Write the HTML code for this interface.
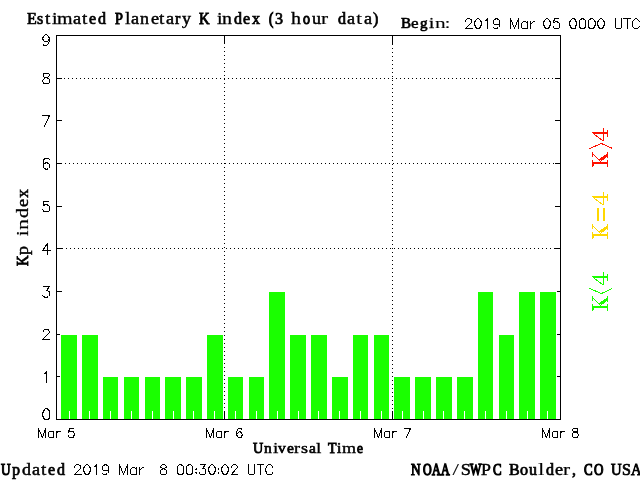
<!DOCTYPE html>
<html><head><meta charset="utf-8"><style>
html,body{margin:0;padding:0;background:#fff;width:640px;height:480px;overflow:hidden}
svg{display:block;will-change:transform}
.sb{font-family:"Liberation Serif",serif;font-weight:normal}
.st{stroke:#000;stroke-width:0.7px}
</style></head><body>
<svg width="640" height="480" viewBox="0 0 640 480">
<rect width="640" height="480" fill="#fff"/>
<g shape-rendering="crispEdges">
<path fill="#000" d="M58 248h1v1h-1zM62 248h1v1h-1zM66 248h1v1h-1zM70 248h1v1h-1zM74 248h1v1h-1zM78 248h1v1h-1zM82 248h1v1h-1zM86 248h1v1h-1zM90 248h1v1h-1zM94 248h1v1h-1zM98 248h1v1h-1zM102 248h1v1h-1zM106 248h1v1h-1zM110 248h1v1h-1zM114 248h1v1h-1zM118 248h1v1h-1zM122 248h1v1h-1zM126 248h1v1h-1zM130 248h1v1h-1zM134 248h1v1h-1zM138 248h1v1h-1zM142 248h1v1h-1zM146 248h1v1h-1zM150 248h1v1h-1zM154 248h1v1h-1zM158 248h1v1h-1zM162 248h1v1h-1zM166 248h1v1h-1zM170 248h1v1h-1zM174 248h1v1h-1zM178 248h1v1h-1zM182 248h1v1h-1zM186 248h1v1h-1zM190 248h1v1h-1zM194 248h1v1h-1zM198 248h1v1h-1zM202 248h1v1h-1zM206 248h1v1h-1zM210 248h1v1h-1zM214 248h1v1h-1zM218 248h1v1h-1zM222 248h1v1h-1zM226 248h1v1h-1zM230 248h1v1h-1zM234 248h1v1h-1zM238 248h1v1h-1zM242 248h1v1h-1zM246 248h1v1h-1zM250 248h1v1h-1zM254 248h1v1h-1zM258 248h1v1h-1zM262 248h1v1h-1zM266 248h1v1h-1zM270 248h1v1h-1zM274 248h1v1h-1zM278 248h1v1h-1zM282 248h1v1h-1zM286 248h1v1h-1zM290 248h1v1h-1zM294 248h1v1h-1zM298 248h1v1h-1zM302 248h1v1h-1zM306 248h1v1h-1zM310 248h1v1h-1zM314 248h1v1h-1zM318 248h1v1h-1zM322 248h1v1h-1zM326 248h1v1h-1zM330 248h1v1h-1zM334 248h1v1h-1zM338 248h1v1h-1zM342 248h1v1h-1zM346 248h1v1h-1zM350 248h1v1h-1zM354 248h1v1h-1zM358 248h1v1h-1zM362 248h1v1h-1zM366 248h1v1h-1zM370 248h1v1h-1zM374 248h1v1h-1zM378 248h1v1h-1zM382 248h1v1h-1zM386 248h1v1h-1zM390 248h1v1h-1zM394 248h1v1h-1zM398 248h1v1h-1zM402 248h1v1h-1zM406 248h1v1h-1zM410 248h1v1h-1zM414 248h1v1h-1zM418 248h1v1h-1zM422 248h1v1h-1zM426 248h1v1h-1zM430 248h1v1h-1zM434 248h1v1h-1zM438 248h1v1h-1zM442 248h1v1h-1zM446 248h1v1h-1zM450 248h1v1h-1zM454 248h1v1h-1zM458 248h1v1h-1zM462 248h1v1h-1zM466 248h1v1h-1zM470 248h1v1h-1zM474 248h1v1h-1zM478 248h1v1h-1zM482 248h1v1h-1zM486 248h1v1h-1zM490 248h1v1h-1zM494 248h1v1h-1zM498 248h1v1h-1zM502 248h1v1h-1zM506 248h1v1h-1zM510 248h1v1h-1zM514 248h1v1h-1zM518 248h1v1h-1zM522 248h1v1h-1zM526 248h1v1h-1zM530 248h1v1h-1zM534 248h1v1h-1zM538 248h1v1h-1zM542 248h1v1h-1zM546 248h1v1h-1zM550 248h1v1h-1zM554 248h1v1h-1zM558 248h1v1h-1zM57 163h1v1h-1zM61 163h1v1h-1zM65 163h1v1h-1zM69 163h1v1h-1zM73 163h1v1h-1zM77 163h1v1h-1zM81 163h1v1h-1zM85 163h1v1h-1zM89 163h1v1h-1zM93 163h1v1h-1zM97 163h1v1h-1zM101 163h1v1h-1zM105 163h1v1h-1zM109 163h1v1h-1zM113 163h1v1h-1zM117 163h1v1h-1zM121 163h1v1h-1zM125 163h1v1h-1zM129 163h1v1h-1zM133 163h1v1h-1zM137 163h1v1h-1zM141 163h1v1h-1zM145 163h1v1h-1zM149 163h1v1h-1zM153 163h1v1h-1zM157 163h1v1h-1zM161 163h1v1h-1zM165 163h1v1h-1zM169 163h1v1h-1zM173 163h1v1h-1zM177 163h1v1h-1zM181 163h1v1h-1zM185 163h1v1h-1zM189 163h1v1h-1zM193 163h1v1h-1zM197 163h1v1h-1zM201 163h1v1h-1zM205 163h1v1h-1zM209 163h1v1h-1zM213 163h1v1h-1zM217 163h1v1h-1zM221 163h1v1h-1zM225 163h1v1h-1zM229 163h1v1h-1zM233 163h1v1h-1zM237 163h1v1h-1zM241 163h1v1h-1zM245 163h1v1h-1zM249 163h1v1h-1zM253 163h1v1h-1zM257 163h1v1h-1zM261 163h1v1h-1zM265 163h1v1h-1zM269 163h1v1h-1zM273 163h1v1h-1zM277 163h1v1h-1zM281 163h1v1h-1zM285 163h1v1h-1zM289 163h1v1h-1zM293 163h1v1h-1zM297 163h1v1h-1zM301 163h1v1h-1zM305 163h1v1h-1zM309 163h1v1h-1zM313 163h1v1h-1zM317 163h1v1h-1zM321 163h1v1h-1zM325 163h1v1h-1zM329 163h1v1h-1zM333 163h1v1h-1zM337 163h1v1h-1zM341 163h1v1h-1zM345 163h1v1h-1zM349 163h1v1h-1zM353 163h1v1h-1zM357 163h1v1h-1zM361 163h1v1h-1zM365 163h1v1h-1zM369 163h1v1h-1zM373 163h1v1h-1zM377 163h1v1h-1zM381 163h1v1h-1zM385 163h1v1h-1zM389 163h1v1h-1zM393 163h1v1h-1zM397 163h1v1h-1zM401 163h1v1h-1zM405 163h1v1h-1zM409 163h1v1h-1zM413 163h1v1h-1zM417 163h1v1h-1zM421 163h1v1h-1zM425 163h1v1h-1zM429 163h1v1h-1zM433 163h1v1h-1zM437 163h1v1h-1zM441 163h1v1h-1zM445 163h1v1h-1zM449 163h1v1h-1zM453 163h1v1h-1zM457 163h1v1h-1zM461 163h1v1h-1zM465 163h1v1h-1zM469 163h1v1h-1zM473 163h1v1h-1zM477 163h1v1h-1zM481 163h1v1h-1zM485 163h1v1h-1zM489 163h1v1h-1zM493 163h1v1h-1zM497 163h1v1h-1zM501 163h1v1h-1zM505 163h1v1h-1zM509 163h1v1h-1zM513 163h1v1h-1zM517 163h1v1h-1zM521 163h1v1h-1zM525 163h1v1h-1zM529 163h1v1h-1zM533 163h1v1h-1zM537 163h1v1h-1zM541 163h1v1h-1zM545 163h1v1h-1zM549 163h1v1h-1zM553 163h1v1h-1zM557 163h1v1h-1zM60 78h1v1h-1zM64 78h1v1h-1zM68 78h1v1h-1zM72 78h1v1h-1zM76 78h1v1h-1zM80 78h1v1h-1zM84 78h1v1h-1zM88 78h1v1h-1zM92 78h1v1h-1zM96 78h1v1h-1zM100 78h1v1h-1zM104 78h1v1h-1zM108 78h1v1h-1zM112 78h1v1h-1zM116 78h1v1h-1zM120 78h1v1h-1zM124 78h1v1h-1zM128 78h1v1h-1zM132 78h1v1h-1zM136 78h1v1h-1zM140 78h1v1h-1zM144 78h1v1h-1zM148 78h1v1h-1zM152 78h1v1h-1zM156 78h1v1h-1zM160 78h1v1h-1zM164 78h1v1h-1zM168 78h1v1h-1zM172 78h1v1h-1zM176 78h1v1h-1zM180 78h1v1h-1zM184 78h1v1h-1zM188 78h1v1h-1zM192 78h1v1h-1zM196 78h1v1h-1zM200 78h1v1h-1zM204 78h1v1h-1zM208 78h1v1h-1zM212 78h1v1h-1zM216 78h1v1h-1zM220 78h1v1h-1zM224 78h1v1h-1zM228 78h1v1h-1zM232 78h1v1h-1zM236 78h1v1h-1zM240 78h1v1h-1zM244 78h1v1h-1zM248 78h1v1h-1zM252 78h1v1h-1zM256 78h1v1h-1zM260 78h1v1h-1zM264 78h1v1h-1zM268 78h1v1h-1zM272 78h1v1h-1zM276 78h1v1h-1zM280 78h1v1h-1zM284 78h1v1h-1zM288 78h1v1h-1zM292 78h1v1h-1zM296 78h1v1h-1zM300 78h1v1h-1zM304 78h1v1h-1zM308 78h1v1h-1zM312 78h1v1h-1zM316 78h1v1h-1zM320 78h1v1h-1zM324 78h1v1h-1zM328 78h1v1h-1zM332 78h1v1h-1zM336 78h1v1h-1zM340 78h1v1h-1zM344 78h1v1h-1zM348 78h1v1h-1zM352 78h1v1h-1zM356 78h1v1h-1zM360 78h1v1h-1zM364 78h1v1h-1zM368 78h1v1h-1zM372 78h1v1h-1zM376 78h1v1h-1zM380 78h1v1h-1zM384 78h1v1h-1zM388 78h1v1h-1zM392 78h1v1h-1zM396 78h1v1h-1zM400 78h1v1h-1zM404 78h1v1h-1zM408 78h1v1h-1zM412 78h1v1h-1zM416 78h1v1h-1zM420 78h1v1h-1zM424 78h1v1h-1zM428 78h1v1h-1zM432 78h1v1h-1zM436 78h1v1h-1zM440 78h1v1h-1zM444 78h1v1h-1zM448 78h1v1h-1zM452 78h1v1h-1zM456 78h1v1h-1zM460 78h1v1h-1zM464 78h1v1h-1zM468 78h1v1h-1zM472 78h1v1h-1zM476 78h1v1h-1zM480 78h1v1h-1zM484 78h1v1h-1zM488 78h1v1h-1zM492 78h1v1h-1zM496 78h1v1h-1zM500 78h1v1h-1zM504 78h1v1h-1zM508 78h1v1h-1zM512 78h1v1h-1zM516 78h1v1h-1zM520 78h1v1h-1zM524 78h1v1h-1zM528 78h1v1h-1zM532 78h1v1h-1zM536 78h1v1h-1zM540 78h1v1h-1zM544 78h1v1h-1zM548 78h1v1h-1zM552 78h1v1h-1zM556 78h1v1h-1zM224 47h1v1h-1zM224 51h1v1h-1zM224 55h1v1h-1zM224 59h1v1h-1zM224 63h1v1h-1zM224 67h1v1h-1zM224 71h1v1h-1zM224 75h1v1h-1zM224 79h1v1h-1zM224 83h1v1h-1zM224 87h1v1h-1zM224 91h1v1h-1zM224 95h1v1h-1zM224 99h1v1h-1zM224 103h1v1h-1zM224 107h1v1h-1zM224 111h1v1h-1zM224 115h1v1h-1zM224 119h1v1h-1zM224 123h1v1h-1zM224 127h1v1h-1zM224 131h1v1h-1zM224 135h1v1h-1zM224 139h1v1h-1zM224 143h1v1h-1zM224 147h1v1h-1zM224 151h1v1h-1zM224 155h1v1h-1zM224 159h1v1h-1zM224 163h1v1h-1zM224 167h1v1h-1zM224 171h1v1h-1zM224 175h1v1h-1zM224 179h1v1h-1zM224 183h1v1h-1zM224 187h1v1h-1zM224 191h1v1h-1zM224 195h1v1h-1zM224 199h1v1h-1zM224 203h1v1h-1zM224 207h1v1h-1zM224 211h1v1h-1zM224 215h1v1h-1zM224 219h1v1h-1zM224 223h1v1h-1zM224 227h1v1h-1zM224 231h1v1h-1zM224 235h1v1h-1zM224 239h1v1h-1zM224 243h1v1h-1zM224 247h1v1h-1zM224 251h1v1h-1zM224 255h1v1h-1zM224 259h1v1h-1zM224 263h1v1h-1zM224 267h1v1h-1zM224 271h1v1h-1zM224 275h1v1h-1zM224 279h1v1h-1zM224 283h1v1h-1zM224 287h1v1h-1zM224 291h1v1h-1zM224 295h1v1h-1zM224 299h1v1h-1zM224 303h1v1h-1zM224 307h1v1h-1zM224 311h1v1h-1zM224 315h1v1h-1zM224 319h1v1h-1zM224 323h1v1h-1zM224 327h1v1h-1zM224 331h1v1h-1zM224 335h1v1h-1zM224 339h1v1h-1zM224 343h1v1h-1zM224 347h1v1h-1zM224 351h1v1h-1zM224 355h1v1h-1zM224 359h1v1h-1zM224 363h1v1h-1zM224 367h1v1h-1zM224 371h1v1h-1zM224 375h1v1h-1zM224 379h1v1h-1zM224 383h1v1h-1zM224 387h1v1h-1zM224 391h1v1h-1zM224 395h1v1h-1zM224 399h1v1h-1zM224 403h1v1h-1zM224 407h1v1h-1zM392 44h1v1h-1zM392 48h1v1h-1zM392 52h1v1h-1zM392 56h1v1h-1zM392 60h1v1h-1zM392 64h1v1h-1zM392 68h1v1h-1zM392 72h1v1h-1zM392 76h1v1h-1zM392 80h1v1h-1zM392 84h1v1h-1zM392 88h1v1h-1zM392 92h1v1h-1zM392 96h1v1h-1zM392 100h1v1h-1zM392 104h1v1h-1zM392 108h1v1h-1zM392 112h1v1h-1zM392 116h1v1h-1zM392 120h1v1h-1zM392 124h1v1h-1zM392 128h1v1h-1zM392 132h1v1h-1zM392 136h1v1h-1zM392 140h1v1h-1zM392 144h1v1h-1zM392 148h1v1h-1zM392 152h1v1h-1zM392 156h1v1h-1zM392 160h1v1h-1zM392 164h1v1h-1zM392 168h1v1h-1zM392 172h1v1h-1zM392 176h1v1h-1zM392 180h1v1h-1zM392 184h1v1h-1zM392 188h1v1h-1zM392 192h1v1h-1zM392 196h1v1h-1zM392 200h1v1h-1zM392 204h1v1h-1zM392 208h1v1h-1zM392 212h1v1h-1zM392 216h1v1h-1zM392 220h1v1h-1zM392 224h1v1h-1zM392 228h1v1h-1zM392 232h1v1h-1zM392 236h1v1h-1zM392 240h1v1h-1zM392 244h1v1h-1zM392 248h1v1h-1zM392 252h1v1h-1zM392 256h1v1h-1zM392 260h1v1h-1zM392 264h1v1h-1zM392 268h1v1h-1zM392 272h1v1h-1zM392 276h1v1h-1zM392 280h1v1h-1zM392 284h1v1h-1zM392 288h1v1h-1zM392 292h1v1h-1zM392 296h1v1h-1zM392 300h1v1h-1zM392 304h1v1h-1zM392 308h1v1h-1zM392 312h1v1h-1zM392 316h1v1h-1zM392 320h1v1h-1zM392 324h1v1h-1zM392 328h1v1h-1zM392 332h1v1h-1zM392 336h1v1h-1zM392 340h1v1h-1zM392 344h1v1h-1zM392 348h1v1h-1zM392 352h1v1h-1zM392 356h1v1h-1zM392 360h1v1h-1zM392 364h1v1h-1zM392 368h1v1h-1zM392 372h1v1h-1zM392 376h1v1h-1zM392 380h1v1h-1zM392 384h1v1h-1zM392 388h1v1h-1zM392 392h1v1h-1zM392 396h1v1h-1zM392 400h1v1h-1zM392 404h1v1h-1zM392 408h1v1h-1z"/>
<rect x="224" y="36" width="1" height="8" fill="#000"/>
<rect x="224" y="411" width="1" height="8" fill="#000"/>
<rect x="392" y="36" width="1" height="8" fill="#000"/>
<rect x="392" y="411" width="1" height="8" fill="#000"/>
<rect x="57" y="376" width="5" height="1" fill="#000"/>
<rect x="555" y="376" width="5" height="1" fill="#000"/>
<rect x="57" y="334" width="5" height="1" fill="#000"/>
<rect x="555" y="334" width="5" height="1" fill="#000"/>
<rect x="57" y="291" width="5" height="1" fill="#000"/>
<rect x="555" y="291" width="5" height="1" fill="#000"/>
<rect x="57" y="248" width="5" height="1" fill="#000"/>
<rect x="555" y="248" width="5" height="1" fill="#000"/>
<rect x="57" y="206" width="5" height="1" fill="#000"/>
<rect x="555" y="206" width="5" height="1" fill="#000"/>
<rect x="57" y="163" width="5" height="1" fill="#000"/>
<rect x="555" y="163" width="5" height="1" fill="#000"/>
<rect x="57" y="120" width="5" height="1" fill="#000"/>
<rect x="555" y="120" width="5" height="1" fill="#000"/>
<rect x="57" y="78" width="5" height="1" fill="#000"/>
<rect x="555" y="78" width="5" height="1" fill="#000"/>
<rect x="60" y="334" width="18" height="85" fill="#fff"/>
<rect x="61" y="335" width="16" height="84" fill="#1aff00"/>
<rect x="69" y="411" width="1" height="8" fill="#fff"/>
<rect x="81" y="334" width="18" height="85" fill="#fff"/>
<rect x="82" y="335" width="16" height="84" fill="#1aff00"/>
<rect x="89" y="411" width="1" height="8" fill="#fff"/>
<rect x="102" y="376" width="17" height="43" fill="#fff"/>
<rect x="103" y="377" width="15" height="42" fill="#1aff00"/>
<rect x="110" y="411" width="1" height="8" fill="#fff"/>
<rect x="123" y="376" width="17" height="43" fill="#fff"/>
<rect x="124" y="377" width="15" height="42" fill="#1aff00"/>
<rect x="131" y="411" width="1" height="8" fill="#fff"/>
<rect x="144" y="376" width="17" height="43" fill="#fff"/>
<rect x="145" y="377" width="15" height="42" fill="#1aff00"/>
<rect x="152" y="411" width="1" height="8" fill="#fff"/>
<rect x="164" y="376" width="18" height="43" fill="#fff"/>
<rect x="165" y="377" width="16" height="42" fill="#1aff00"/>
<rect x="173" y="411" width="1" height="8" fill="#fff"/>
<rect x="185" y="376" width="18" height="43" fill="#fff"/>
<rect x="186" y="377" width="16" height="42" fill="#1aff00"/>
<rect x="193" y="411" width="1" height="8" fill="#fff"/>
<rect x="206" y="334" width="18" height="85" fill="#fff"/>
<rect x="207" y="335" width="16" height="84" fill="#1aff00"/>
<rect x="214" y="411" width="1" height="8" fill="#fff"/>
<rect x="227" y="376" width="17" height="43" fill="#fff"/>
<rect x="228" y="377" width="15" height="42" fill="#1aff00"/>
<rect x="235" y="411" width="1" height="8" fill="#fff"/>
<rect x="248" y="376" width="17" height="43" fill="#fff"/>
<rect x="249" y="377" width="15" height="42" fill="#1aff00"/>
<rect x="256" y="411" width="1" height="8" fill="#fff"/>
<rect x="268" y="291" width="18" height="128" fill="#fff"/>
<rect x="269" y="292" width="16" height="127" fill="#1aff00"/>
<rect x="277" y="411" width="1" height="8" fill="#fff"/>
<rect x="289" y="334" width="18" height="85" fill="#fff"/>
<rect x="290" y="335" width="16" height="84" fill="#1aff00"/>
<rect x="298" y="411" width="1" height="8" fill="#fff"/>
<rect x="310" y="334" width="18" height="85" fill="#fff"/>
<rect x="311" y="335" width="16" height="84" fill="#1aff00"/>
<rect x="318" y="411" width="1" height="8" fill="#fff"/>
<rect x="331" y="376" width="18" height="43" fill="#fff"/>
<rect x="332" y="377" width="16" height="42" fill="#1aff00"/>
<rect x="339" y="411" width="1" height="8" fill="#fff"/>
<rect x="352" y="334" width="17" height="85" fill="#fff"/>
<rect x="353" y="335" width="15" height="84" fill="#1aff00"/>
<rect x="360" y="411" width="1" height="8" fill="#fff"/>
<rect x="373" y="334" width="17" height="85" fill="#fff"/>
<rect x="374" y="335" width="15" height="84" fill="#1aff00"/>
<rect x="381" y="411" width="1" height="8" fill="#fff"/>
<rect x="393" y="376" width="18" height="43" fill="#fff"/>
<rect x="394" y="377" width="16" height="42" fill="#1aff00"/>
<rect x="402" y="411" width="1" height="8" fill="#fff"/>
<rect x="414" y="376" width="18" height="43" fill="#fff"/>
<rect x="415" y="377" width="16" height="42" fill="#1aff00"/>
<rect x="423" y="411" width="1" height="8" fill="#fff"/>
<rect x="435" y="376" width="18" height="43" fill="#fff"/>
<rect x="436" y="377" width="16" height="42" fill="#1aff00"/>
<rect x="443" y="411" width="1" height="8" fill="#fff"/>
<rect x="456" y="376" width="18" height="43" fill="#fff"/>
<rect x="457" y="377" width="16" height="42" fill="#1aff00"/>
<rect x="464" y="411" width="1" height="8" fill="#fff"/>
<rect x="477" y="291" width="17" height="128" fill="#fff"/>
<rect x="478" y="292" width="15" height="127" fill="#1aff00"/>
<rect x="485" y="411" width="1" height="8" fill="#fff"/>
<rect x="498" y="334" width="17" height="85" fill="#fff"/>
<rect x="499" y="335" width="15" height="84" fill="#1aff00"/>
<rect x="506" y="411" width="1" height="8" fill="#fff"/>
<rect x="518" y="291" width="18" height="128" fill="#fff"/>
<rect x="519" y="292" width="16" height="127" fill="#1aff00"/>
<rect x="527" y="411" width="1" height="8" fill="#fff"/>
<rect x="539" y="291" width="18" height="128" fill="#fff"/>
<rect x="540" y="292" width="16" height="127" fill="#1aff00"/>
<rect x="547" y="411" width="1" height="8" fill="#fff"/>
<rect x="56" y="35" width="505" height="1" fill="#000"/>
<rect x="56" y="419" width="505" height="1" fill="#000"/>
<rect x="56" y="35" width="1" height="385" fill="#000"/>
<rect x="560" y="35" width="1" height="385" fill="#000"/>
</g>
<path fill="none" stroke="#000" stroke-width="1" stroke-linecap="square" shape-rendering="crispEdges" d="M465.5 21.5L465.5 20.5L466.5 19.5L466.5 19.5L467.5 18.5L469.5 18.5L470.5 19.5L471.5 19.5L471.5 20.5L471.5 21.5L471.5 22.5L470.5 23.5L465.5 28.5L472.5 28.5M477.5 18.5L476.5 19.5L475.5 20.5L474.5 22.5L474.5 24.5L475.5 26.5L476.5 28.5L477.5 28.5L478.5 28.5L479.5 28.5L480.5 26.5L481.5 24.5L481.5 22.5L480.5 20.5L479.5 19.5L478.5 18.5L477.5 18.5M485.5 20.5L486.5 20.5L487.5 18.5L487.5 28.5M499.5 21.5L499.5 23.5L498.5 24.5L496.5 24.5L496.5 24.5L494.5 24.5L493.5 23.5L493.5 21.5L493.5 21.5L493.5 20.5L494.5 19.5L496.5 18.5L496.5 18.5L498.5 19.5L499.5 20.5L499.5 21.5L499.5 23.5L499.5 26.5L498.5 27.5L496.5 28.5L495.5 28.5L494.5 28.5L493.5 27.5M510.5 18.5L510.5 28.5M510.5 18.5L514.5 28.5M518.5 18.5L514.5 28.5M518.5 18.5L518.5 28.5M527.5 21.5L527.5 28.5M527.5 23.5L526.5 22.5L525.5 21.5L523.5 21.5L522.5 22.5L521.5 23.5L521.5 24.5L521.5 25.5L521.5 27.5L522.5 28.5L523.5 28.5L525.5 28.5L526.5 28.5L527.5 27.5M530.5 21.5L530.5 28.5M530.5 24.5L531.5 23.5L532.5 22.5L533.5 21.5L534.5 21.5M546.5 18.5L545.5 19.5L544.5 20.5L543.5 22.5L543.5 24.5L544.5 26.5L545.5 28.5L546.5 28.5L547.5 28.5L548.5 28.5L549.5 26.5L550.5 24.5L550.5 22.5L549.5 20.5L548.5 19.5L547.5 18.5L546.5 18.5M558.5 18.5L554.5 18.5L553.5 22.5L554.5 22.5L555.5 21.5L556.5 21.5L558.5 22.5L559.5 23.5L559.5 24.5L559.5 25.5L559.5 27.5L558.5 28.5L556.5 28.5L555.5 28.5L554.5 28.5L553.5 27.5L553.5 26.5M572.5 18.5L571.5 19.5L570.5 20.5L569.5 22.5L569.5 24.5L570.5 26.5L571.5 28.5L572.5 28.5L573.5 28.5L575.5 28.5L575.5 26.5L576.5 24.5L576.5 22.5L575.5 20.5L575.5 19.5L573.5 18.5L572.5 18.5M582.5 18.5L580.5 19.5L579.5 20.5L579.5 22.5L579.5 24.5L579.5 26.5L580.5 28.5L582.5 28.5L582.5 28.5L584.5 28.5L585.5 26.5L585.5 24.5L585.5 22.5L585.5 20.5L584.5 19.5L582.5 18.5L582.5 18.5M591.5 18.5L589.5 19.5L588.5 20.5L588.5 22.5L588.5 24.5L588.5 26.5L589.5 28.5L591.5 28.5L592.5 28.5L593.5 28.5L594.5 26.5L595.5 24.5L595.5 22.5L594.5 20.5L593.5 19.5L592.5 18.5L591.5 18.5M600.5 18.5L599.5 19.5L598.5 20.5L597.5 22.5L597.5 24.5L598.5 26.5L599.5 28.5L600.5 28.5L601.5 28.5L602.5 28.5L603.5 26.5L604.5 24.5L604.5 22.5L603.5 20.5L602.5 19.5L601.5 18.5L600.5 18.5M615.5 18.5L615.5 25.5L615.5 27.5L616.5 28.5L617.5 28.5L618.5 28.5L620.5 28.5L621.5 27.5L621.5 25.5L621.5 18.5M627.5 18.5L627.5 28.5M623.5 18.5L630.5 18.5M639.5 21.5L638.5 20.5L637.5 19.5L636.5 18.5L635.5 18.5L634.5 19.5L633.5 20.5L632.5 21.5L632.5 22.5L632.5 24.5L632.5 26.5L633.5 27.5L634.5 28.5L635.5 28.5L636.5 28.5L637.5 28.5L638.5 27.5L639.5 26.5M74.5 467.5L74.5 466.5L75.5 465.5L75.5 465.5L76.5 464.5L78.5 464.5L79.5 465.5L80.5 465.5L80.5 466.5L80.5 467.5L80.5 468.5L79.5 469.5L74.5 474.5L81.5 474.5M86.5 464.5L85.5 465.5L84.5 466.5L83.5 468.5L83.5 470.5L84.5 472.5L85.5 474.5L86.5 474.5L87.5 474.5L88.5 474.5L89.5 472.5L90.5 470.5L90.5 468.5L89.5 466.5L88.5 465.5L87.5 464.5L86.5 464.5M94.5 466.5L95.5 466.5L96.5 464.5L96.5 474.5M108.5 467.5L108.5 469.5L107.5 470.5L105.5 470.5L105.5 470.5L103.5 470.5L102.5 469.5L102.5 467.5L102.5 467.5L102.5 466.5L103.5 465.5L105.5 464.5L105.5 464.5L107.5 465.5L108.5 466.5L108.5 467.5L108.5 469.5L108.5 472.5L107.5 473.5L105.5 474.5L104.5 474.5L103.5 474.5L102.5 473.5M119.5 464.5L119.5 474.5M119.5 464.5L123.5 474.5M127.5 464.5L123.5 474.5M127.5 464.5L127.5 474.5M136.5 467.5L136.5 474.5M136.5 469.5L135.5 468.5L134.5 467.5L132.5 467.5L131.5 468.5L130.5 469.5L130.5 470.5L130.5 471.5L130.5 473.5L131.5 474.5L132.5 474.5L134.5 474.5L135.5 474.5L136.5 473.5M139.5 467.5L139.5 474.5M139.5 470.5L140.5 469.5L141.5 468.5L142.5 467.5L143.5 467.5M162.5 464.5L161.5 465.5L160.5 466.5L160.5 467.5L161.5 467.5L162.5 468.5L163.5 468.5L165.5 469.5L166.5 470.5L166.5 471.5L166.5 472.5L166.5 473.5L165.5 474.5L164.5 474.5L162.5 474.5L161.5 474.5L160.5 473.5L160.5 472.5L160.5 471.5L160.5 470.5L161.5 469.5L163.5 468.5L164.5 468.5L165.5 467.5L166.5 467.5L166.5 466.5L165.5 465.5L164.5 464.5L162.5 464.5M179.5 464.5L178.5 465.5L177.5 466.5L177.5 468.5L177.5 470.5L177.5 472.5L178.5 474.5L179.5 474.5L180.5 474.5L182.5 474.5L183.5 472.5L183.5 470.5L183.5 468.5L183.5 466.5L182.5 465.5L180.5 464.5L179.5 464.5M189.5 464.5L187.5 465.5L186.5 466.5L186.5 468.5L186.5 470.5L186.5 472.5L187.5 474.5L189.5 474.5L190.5 474.5L191.5 474.5L192.5 472.5L192.5 470.5L192.5 468.5L192.5 466.5L191.5 465.5L190.5 464.5L189.5 464.5M196.5 468.5L195.5 469.5L196.5 469.5L196.5 469.5L196.5 468.5M196.5 472.5L195.5 472.5L196.5 473.5L196.5 472.5L196.5 472.5M200.5 464.5L205.5 464.5L202.5 468.5L204.5 468.5L204.5 468.5L205.5 469.5L205.5 470.5L205.5 471.5L205.5 473.5L204.5 474.5L203.5 474.5L201.5 474.5L200.5 474.5L199.5 473.5L199.5 472.5M211.5 464.5L210.5 465.5L209.5 466.5L208.5 468.5L208.5 470.5L209.5 472.5L210.5 474.5L211.5 474.5L212.5 474.5L213.5 474.5L214.5 472.5L215.5 470.5L215.5 468.5L214.5 466.5L213.5 465.5L212.5 464.5L211.5 464.5M218.5 468.5L218.5 469.5L218.5 469.5L218.5 469.5L218.5 468.5M218.5 472.5L218.5 472.5L218.5 473.5L218.5 472.5L218.5 472.5M224.5 464.5L223.5 465.5L222.5 466.5L221.5 468.5L221.5 470.5L222.5 472.5L223.5 474.5L224.5 474.5L225.5 474.5L226.5 474.5L227.5 472.5L228.5 470.5L228.5 468.5L227.5 466.5L226.5 465.5L225.5 464.5L224.5 464.5M231.5 467.5L231.5 466.5L232.5 465.5L232.5 465.5L233.5 464.5L235.5 464.5L236.5 465.5L236.5 465.5L237.5 466.5L237.5 467.5L236.5 468.5L235.5 469.5L231.5 474.5L237.5 474.5M248.5 464.5L248.5 471.5L248.5 473.5L249.5 474.5L251.5 474.5L252.5 474.5L253.5 474.5L254.5 473.5L254.5 471.5L254.5 464.5M260.5 464.5L260.5 474.5M257.5 464.5L263.5 464.5M272.5 467.5L272.5 466.5L271.5 465.5L270.5 464.5L268.5 464.5L267.5 465.5L266.5 466.5L266.5 467.5L265.5 468.5L265.5 470.5L266.5 472.5L266.5 473.5L267.5 474.5L268.5 474.5L270.5 474.5L271.5 474.5L272.5 473.5L272.5 472.5M45.5 408.5L44.5 409.5L43.5 411.5L42.5 413.5L42.5 415.5L43.5 417.5L44.5 419.5L45.5 419.5L46.5 419.5L48.5 419.5L49.5 417.5L49.5 415.5L49.5 413.5L49.5 411.5L48.5 409.5L46.5 408.5L45.5 408.5M44.5 373.5L45.5 373.5L46.5 371.5L46.5 382.5M43.5 331.5L43.5 331.5L43.5 330.5L44.5 329.5L45.5 329.5L47.5 329.5L48.5 329.5L48.5 330.5L49.5 331.5L49.5 332.5L48.5 333.5L47.5 334.5L42.5 339.5L49.5 339.5M43.5 286.5L49.5 286.5L46.5 290.5L47.5 290.5L48.5 291.5L49.5 291.5L49.5 293.5L49.5 294.5L49.5 295.5L48.5 296.5L46.5 297.5L45.5 297.5L43.5 296.5L43.5 296.5L42.5 295.5M47.5 243.5L42.5 250.5L50.5 250.5M47.5 243.5L47.5 254.5M48.5 201.5L43.5 201.5L43.5 205.5L43.5 205.5L45.5 204.5L46.5 204.5L48.5 205.5L49.5 206.5L49.5 207.5L49.5 208.5L49.5 210.5L48.5 211.5L46.5 211.5L45.5 211.5L43.5 211.5L43.5 210.5L42.5 209.5M49.5 159.5L48.5 158.5L47.5 158.5L46.5 158.5L44.5 158.5L43.5 160.5L43.5 163.5L43.5 165.5L43.5 167.5L44.5 168.5L46.5 169.5L46.5 169.5L48.5 168.5L49.5 167.5L49.5 166.5L49.5 165.5L49.5 164.5L48.5 163.5L46.5 162.5L46.5 162.5L44.5 163.5L43.5 164.5L43.5 165.5M49.5 115.5L44.5 126.5M42.5 115.5L49.5 115.5M45.5 73.5L43.5 73.5L43.5 74.5L43.5 75.5L43.5 76.5L44.5 77.5L46.5 77.5L48.5 78.5L49.5 79.5L49.5 80.5L49.5 81.5L49.5 82.5L48.5 83.5L47.5 83.5L45.5 83.5L43.5 83.5L43.5 82.5L42.5 81.5L42.5 80.5L43.5 79.5L44.5 78.5L45.5 77.5L47.5 77.5L48.5 76.5L49.5 75.5L49.5 74.5L48.5 73.5L47.5 73.5L45.5 73.5M49.5 38.5L48.5 40.5L47.5 41.5L46.5 41.5L45.5 41.5L44.5 41.5L43.5 40.5L42.5 38.5L42.5 38.5L43.5 36.5L44.5 35.5L45.5 34.5L46.5 34.5L47.5 35.5L48.5 36.5L49.5 38.5L49.5 40.5L48.5 43.5L47.5 44.5L46.5 45.5L45.5 45.5L43.5 45.5L43.5 44.5M38.5 428.5L38.5 437.5M38.5 428.5L42.5 437.5M45.5 428.5L42.5 437.5M45.5 428.5L45.5 437.5M53.5 431.5L53.5 437.5M53.5 432.5L52.5 431.5L51.5 431.5L50.5 431.5L49.5 431.5L48.5 432.5L48.5 433.5L48.5 434.5L48.5 436.5L49.5 437.5L50.5 437.5L51.5 437.5L52.5 437.5L53.5 436.5M56.5 431.5L56.5 437.5M56.5 433.5L57.5 432.5L57.5 431.5L58.5 431.5L60.5 431.5M73.5 428.5L69.5 428.5L68.5 432.5L69.5 431.5L70.5 431.5L71.5 431.5L73.5 431.5L73.5 432.5L74.5 433.5L74.5 434.5L73.5 436.5L73.5 437.5L71.5 437.5L70.5 437.5L69.5 437.5L68.5 436.5L68.5 435.5M206.5 428.5L206.5 437.5M206.5 428.5L210.5 437.5M213.5 428.5L210.5 437.5M213.5 428.5L213.5 437.5M221.5 431.5L221.5 437.5M221.5 432.5L220.5 431.5L219.5 431.5L218.5 431.5L217.5 431.5L216.5 432.5L216.5 433.5L216.5 434.5L216.5 436.5L217.5 437.5L218.5 437.5L219.5 437.5L220.5 437.5L221.5 436.5M224.5 431.5L224.5 437.5M224.5 433.5L225.5 432.5L225.5 431.5L226.5 431.5L228.5 431.5M241.5 429.5L241.5 428.5L240.5 428.5L239.5 428.5L238.5 428.5L237.5 429.5L236.5 432.5L236.5 434.5L237.5 436.5L238.5 437.5L239.5 437.5L239.5 437.5L241.5 437.5L241.5 436.5L242.5 434.5L242.5 434.5L241.5 433.5L241.5 432.5L239.5 431.5L239.5 431.5L238.5 432.5L237.5 433.5L236.5 434.5M374.5 428.5L374.5 437.5M374.5 428.5L378.5 437.5M381.5 428.5L378.5 437.5M381.5 428.5L381.5 437.5M389.5 431.5L389.5 437.5M389.5 432.5L388.5 431.5L387.5 431.5L386.5 431.5L385.5 431.5L384.5 432.5L384.5 433.5L384.5 434.5L384.5 436.5L385.5 437.5L386.5 437.5L387.5 437.5L388.5 437.5L389.5 436.5M392.5 431.5L392.5 437.5M392.5 433.5L393.5 432.5L393.5 431.5L394.5 431.5L396.5 431.5M410.5 428.5L406.5 437.5M404.5 428.5L410.5 428.5M542.5 428.5L542.5 437.5M542.5 428.5L546.5 437.5M549.5 428.5L546.5 437.5M549.5 428.5L549.5 437.5M557.5 431.5L557.5 437.5M557.5 432.5L556.5 431.5L555.5 431.5L554.5 431.5L553.5 431.5L552.5 432.5L552.5 433.5L552.5 434.5L552.5 436.5L553.5 437.5L554.5 437.5L555.5 437.5L556.5 437.5L557.5 436.5M560.5 431.5L560.5 437.5M560.5 433.5L561.5 432.5L561.5 431.5L562.5 431.5L564.5 431.5M574.5 428.5L573.5 428.5L572.5 429.5L572.5 430.5L573.5 431.5L574.5 431.5L575.5 432.5L577.5 432.5L577.5 433.5L578.5 434.5L578.5 435.5L577.5 436.5L577.5 437.5L576.5 437.5L574.5 437.5L573.5 437.5L572.5 436.5L572.5 435.5L572.5 434.5L572.5 433.5L573.5 432.5L574.5 432.5L576.5 431.5L577.5 431.5L577.5 430.5L577.5 429.5L577.5 428.5L576.5 428.5L574.5 428.5"/>
<g class="sb st" fill="#000">
<text transform="translate(26.986,24) scale(1.0030,1)" font-size="16" style="stroke-width:0.694px">E</text>
<text transform="translate(36.991,24) scale(1.0030,1)" font-size="16" style="stroke-width:0.694px">s</text>
<text transform="translate(45.000,24) scale(1.2000,1)" font-size="16" style="stroke-width:0.350px">t</text>
<text transform="translate(52.000,24) scale(1.2500,1)" font-size="16" style="stroke-width:0.280px">i</text>
<text transform="translate(57.000,24) scale(1.2500,1)" font-size="16" style="stroke-width:0.280px">m</text>
<text transform="translate(73.000,24) scale(1.1429,1)" font-size="16" style="stroke-width:0.437px">a</text>
<text transform="translate(82.000,24) scale(1.2000,1)" font-size="16" style="stroke-width:0.350px">t</text>
<text transform="translate(88.990,24) scale(1.0030,1)" font-size="16" style="stroke-width:0.694px">e</text>
<text transform="translate(97.988,24) scale(1.0030,1)" font-size="16" style="stroke-width:0.694px">d</text>
<text transform="translate(115.000,24) scale(0.8889,1)" font-size="16" style="stroke-width:0.962px">P</text>
<text transform="translate(125.000,24) scale(1.2500,1)" font-size="16" style="stroke-width:0.280px">l</text>
<text transform="translate(131.000,24) scale(1.1429,1)" font-size="16" style="stroke-width:0.437px">a</text>
<text transform="translate(140.000,24) scale(1.1250,1)" font-size="16" style="stroke-width:0.467px">n</text>
<text transform="translate(151.000,24) scale(1.1429,1)" font-size="16" style="stroke-width:0.437px">e</text>
<text transform="translate(159.000,24) scale(1.2000,1)" font-size="16" style="stroke-width:0.350px">t</text>
<text transform="translate(166.000,24) scale(1.1429,1)" font-size="16" style="stroke-width:0.437px">a</text>
<text transform="translate(174.991,24) scale(1.0030,1)" font-size="16" style="stroke-width:0.694px">r</text>
<text transform="translate(182.000,24) scale(1.1250,1)" font-size="16" style="stroke-width:0.467px">y</text>
<text transform="translate(199.000,24) scale(0.9167,1)" font-size="16" style="stroke-width:0.891px">K</text>
<text transform="translate(217.000,24) scale(1.2500,1)" font-size="16" style="stroke-width:0.280px">i</text>
<text transform="translate(222.000,24) scale(1.2500,1)" font-size="16" style="stroke-width:0.280px">n</text>
<text transform="translate(233.988,24) scale(1.0030,1)" font-size="16" style="stroke-width:0.694px">d</text>
<text transform="translate(242.989,24) scale(1.0030,1)" font-size="16" style="stroke-width:0.694px">e</text>
<text transform="translate(251.988,24) scale(1.0030,1)" font-size="16" style="stroke-width:0.694px">x</text>
<text transform="translate(269.000,24) scale(0.8000,1)" font-size="16" style="stroke-width:1.225px">(</text>
<text transform="translate(274.988,24) scale(1.0030,1)" font-size="16" style="stroke-width:0.694px">3</text>
<text transform="translate(291.000,24) scale(1.2500,1)" font-size="16" style="stroke-width:0.280px">h</text>
<text transform="translate(303.000,24) scale(0.8750,1)" font-size="16" style="stroke-width:1.000px">o</text>
<text transform="translate(312.000,24) scale(1.1250,1)" font-size="16" style="stroke-width:0.467px">u</text>
<text transform="translate(321.000,24) scale(1.3333,1)" font-size="16" style="stroke-width:0.175px">r</text>
<text transform="translate(337.988,24) scale(1.0030,1)" font-size="16" style="stroke-width:0.694px">d</text>
<text transform="translate(347.000,24) scale(1.1429,1)" font-size="16" style="stroke-width:0.437px">a</text>
<text transform="translate(356.000,24) scale(1.4000,1)" font-size="16" style="stroke-width:0.100px">t</text>
<text transform="translate(364.000,24) scale(1.1429,1)" font-size="16" style="stroke-width:0.437px">a</text>
<text transform="translate(372.993,24) scale(1.0030,1)" font-size="16" style="stroke-width:0.694px">)</text>
<text transform="translate(400.985,28) scale(1.0030,1)" font-size="15" style="stroke-width:0.694px">B</text>
<text transform="translate(411.000,28) scale(1.1429,1)" font-size="15" style="stroke-width:0.437px">e</text>
<text transform="translate(419.988,28) scale(1.0030,1)" font-size="15" style="stroke-width:0.694px">g</text>
<text transform="translate(429.000,28) scale(1.2500,1)" font-size="15" style="stroke-width:0.280px">i</text>
<text transform="translate(435.000,28) scale(1.4286,1)" font-size="15" style="stroke-width:0.070px">n</text>
<text transform="translate(444.600,28) scale(1.4500,1)" font-size="15" style="stroke-width:0.048px">:</text>
<text transform="translate(253.000,453) scale(0.9091,1)" font-size="15.5" style="stroke-width:0.910px">U</text>
<text transform="translate(263.988,453) scale(1.0030,1)" font-size="15.5" style="stroke-width:0.694px">n</text>
<text transform="translate(273.000,453) scale(1.2500,1)" font-size="15.5" style="stroke-width:0.280px">i</text>
<text transform="translate(277.988,453) scale(1.0030,1)" font-size="15.5" style="stroke-width:0.694px">v</text>
<text transform="translate(286.990,453) scale(1.0030,1)" font-size="15.5" style="stroke-width:0.694px">e</text>
<text transform="translate(294.000,453) scale(1.1667,1)" font-size="15.5" style="stroke-width:0.400px">r</text>
<text transform="translate(301.000,453) scale(1.1667,1)" font-size="15.5" style="stroke-width:0.400px">s</text>
<text transform="translate(308.990,453) scale(1.0030,1)" font-size="15.5" style="stroke-width:0.694px">a</text>
<text transform="translate(316.000,453) scale(1.2500,1)" font-size="15.5" style="stroke-width:0.280px">l</text>
<text transform="translate(328.000,453) scale(0.9000,1)" font-size="15.5" style="stroke-width:0.933px">T</text>
<text transform="translate(336.994,453) scale(1.0030,1)" font-size="15.5" style="stroke-width:0.694px">i</text>
<text transform="translate(342.000,453) scale(1.1667,1)" font-size="15.5" style="stroke-width:0.400px">m</text>
<text transform="translate(357.000,453) scale(0.8571,1)" font-size="15.5" style="stroke-width:1.050px">e</text>
<text transform="translate(1.000,475) scale(0.8333,1)" font-size="16" style="stroke-width:1.120px">U</text>
<text transform="translate(11.988,475) scale(1.0030,1)" font-size="16" style="stroke-width:0.694px">p</text>
<text transform="translate(22.000,475) scale(1.1250,1)" font-size="16" style="stroke-width:0.467px">d</text>
<text transform="translate(32.000,475) scale(1.1429,1)" font-size="16" style="stroke-width:0.437px">a</text>
<text transform="translate(41.000,475) scale(1.2000,1)" font-size="16" style="stroke-width:0.350px">t</text>
<text transform="translate(47.989,475) scale(1.0030,1)" font-size="16" style="stroke-width:0.694px">e</text>
<text transform="translate(56.988,475) scale(1.0030,1)" font-size="16" style="stroke-width:0.694px">d</text>
<text transform="translate(411.000,475) scale(0.8333,1)" font-size="16" style="stroke-width:1.120px">N</text>
<text transform="translate(422.875,475) scale(0.7500,1)" font-size="16" style="stroke-width:1.400px">O</text>
<text transform="translate(432.000,475) scale(0.7500,1)" font-size="16" style="stroke-width:1.400px">A</text>
<text transform="translate(441.000,475) scale(0.7500,1)" font-size="16" style="stroke-width:1.400px">A</text>
<text transform="translate(452.375,475) scale(1.4500,1)" font-size="16" style="stroke-width:0.048px">/</text>
<text transform="translate(460.857,475) scale(1.1429,1)" font-size="16" style="stroke-width:0.437px">S</text>
<text transform="translate(469.875,475) scale(0.7500,1)" font-size="16" style="stroke-width:1.400px">W</text>
<text transform="translate(481.000,475) scale(1.1111,1)" font-size="16" style="stroke-width:0.490px">P</text>
<text transform="translate(493.000,475) scale(0.8000,1)" font-size="16" style="stroke-width:1.225px">C</text>
<text transform="translate(508.985,475) scale(1.0030,1)" font-size="16" style="stroke-width:0.694px">B</text>
<text transform="translate(519.988,475) scale(1.0030,1)" font-size="16" style="stroke-width:0.694px">o</text>
<text transform="translate(528.988,475) scale(1.0030,1)" font-size="16" style="stroke-width:0.694px">u</text>
<text transform="translate(538.100,475) scale(1.4500,1)" font-size="16" style="stroke-width:0.048px">l</text>
<text transform="translate(545.988,475) scale(1.0030,1)" font-size="16" style="stroke-width:0.694px">d</text>
<text transform="translate(555.000,475) scale(1.1429,1)" font-size="16" style="stroke-width:0.437px">e</text>
<text transform="translate(563.000,475) scale(1.3333,1)" font-size="16" style="stroke-width:0.175px">r</text>
<text transform="translate(571.995,475) scale(1.0030,1)" font-size="16" style="stroke-width:0.694px">,</text>
<text transform="translate(584.000,475) scale(0.8000,1)" font-size="16" style="stroke-width:1.225px">C</text>
<text transform="translate(594.000,475) scale(0.8182,1)" font-size="16" style="stroke-width:1.167px">O</text>
<text transform="translate(611.000,475) scale(0.9167,1)" font-size="16" style="stroke-width:0.891px">U</text>
<text transform="translate(621.986,475) scale(1.0030,1)" font-size="16" style="stroke-width:0.694px">S</text>
<text transform="translate(631.000,475) scale(0.9167,1)" font-size="16" style="stroke-width:0.891px">A</text>
<text transform="translate(28,266.000) rotate(-90) scale(0.9167,1)" font-size="16" style="stroke-width:0.891px">K</text>
<text transform="translate(28,255.000) rotate(-90) scale(1.1250,1)" font-size="16" style="stroke-width:0.467px">p</text>
<text transform="translate(28,236.000) rotate(-90) scale(1.2500,1)" font-size="16" style="stroke-width:0.280px">i</text>
<text transform="translate(28,230.000) rotate(-90) scale(1.3750,1)" font-size="16" style="stroke-width:0.127px">n</text>
<text transform="translate(28,218.000) rotate(-90) scale(1.2500,1)" font-size="16" style="stroke-width:0.280px">d</text>
<text transform="translate(28,207.000) rotate(-90) scale(1.1429,1)" font-size="16" style="stroke-width:0.437px">e</text>
<text transform="translate(28,198.000) rotate(-90) scale(1.1250,1)" font-size="16" style="stroke-width:0.467px">x</text>
</g>
<g shape-rendering="crispEdges"><g fill="#ff1000"><rect x="592" y="152" width="1" height="5"/><rect x="607" y="152" width="1" height="6"/><rect x="592" y="162" width="16" height="2"/><rect x="592" y="160" width="1" height="7"/><rect x="607" y="160" width="1" height="7"/><rect x="593" y="164" width="1" height="2"/><path d="M593.5 154.5L600.5 161.5M607.5 154.5L599.5 160.5M607.5 155.5L600.5 161.5M606.5 154.5L599.5 159.5" fill="none" stroke="#ff1000" stroke-width="1" stroke-linecap="square"/></g>
<g fill="#ff1000"><rect x="592" y="132" width="16" height="1"/><rect x="593" y="133" width="15" height="1"/><rect x="607" y="130" width="1" height="7"/><rect x="603" y="128" width="1" height="13"/><path d="M594.5 134.5L602.5 140.5" fill="none" stroke="#ff1000" stroke-width="1" stroke-linecap="square"/></g>
<path d="M589.5 148.5L601.5 143.5L612.5 148.5" fill="none" stroke="#ff1000" stroke-width="1"/>
<g fill="#ffd800"><rect x="592" y="224" width="1" height="5"/><rect x="607" y="224" width="1" height="6"/><rect x="592" y="234" width="16" height="2"/><rect x="592" y="232" width="1" height="7"/><rect x="607" y="232" width="1" height="7"/><rect x="593" y="236" width="1" height="2"/><path d="M593.5 226.5L600.5 233.5M607.5 226.5L599.5 232.5M607.5 227.5L600.5 233.5M606.5 226.5L599.5 231.5" fill="none" stroke="#ffd800" stroke-width="1" stroke-linecap="square"/></g>
<g fill="#ffd800"><rect x="592" y="196" width="16" height="1"/><rect x="593" y="197" width="15" height="1"/><rect x="607" y="194" width="1" height="7"/><rect x="603" y="192" width="1" height="13"/><path d="M594.5 198.5L602.5 204.5" fill="none" stroke="#ffd800" stroke-width="1" stroke-linecap="square"/></g>
<rect x="597" y="208" width="2" height="13" fill="#ffd800"/><rect x="603" y="208" width="2" height="13" fill="#ffd800"/>
<g fill="#1aff00"><rect x="592" y="296" width="1" height="5"/><rect x="607" y="296" width="1" height="6"/><rect x="592" y="306" width="16" height="2"/><rect x="592" y="304" width="1" height="7"/><rect x="607" y="304" width="1" height="7"/><rect x="593" y="308" width="1" height="2"/><path d="M593.5 298.5L600.5 305.5M607.5 298.5L599.5 304.5M607.5 299.5L600.5 305.5M606.5 298.5L599.5 303.5" fill="none" stroke="#1aff00" stroke-width="1" stroke-linecap="square"/></g>
<g fill="#1aff00"><rect x="592" y="276" width="16" height="1"/><rect x="593" y="277" width="15" height="1"/><rect x="607" y="274" width="1" height="7"/><rect x="603" y="272" width="1" height="13"/><path d="M594.5 278.5L602.5 284.5" fill="none" stroke="#1aff00" stroke-width="1" stroke-linecap="square"/></g>
<path d="M589.5 288.5L601.5 293.5L612.5 288.5" fill="none" stroke="#1aff00" stroke-width="1"/></g>
</svg>
</body></html>
